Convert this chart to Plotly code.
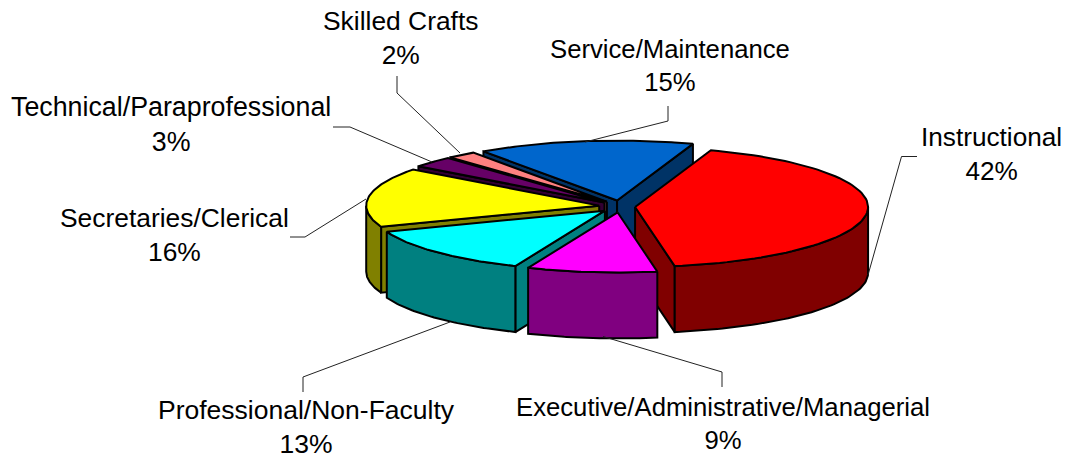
import numpy as np
import plotly.graph_objects as go

# ---- data ----
categories = ["Instructional", "Executive/Administrative/Managerial", "Professional/Non-Faculty",
              "Secretaries/Clerical", "Technical/Paraprofessional", "Skilled Crafts", "Service/Maintenance"]
shares = [42, 9, 13, 16, 3, 2, 15]

# ---- styling, one entry per category ----
top_colors = ["#FF0000", "#FF00FF", "#00FFFF", "#FFFF00", "#660066", "#FF8080", "#0066CC"]
wall_colors = ["#800000", "#800080", "#008080", "#808000", "#330033", "#804040", "#003366"]
label_centres = [(991.5, 153.5), (723, 423), (306, 427), (174, 235), (170.5, 124), (400, 38), (669.5, 65.5)]
label_sizes = [26.2, 25.7, 26.5, 26.4, 26.8, 26.4, 25.7]
explode_scale = [0.72, 1, 1, 1, 1, 1, 1]
leaders = [
    [(917, 156.5), (901.5, 156.5), (868, 275)],
    [(722, 387), (722, 372), (603, 336.5)],
    [(303, 392), (303, 377), (450, 322)],
    [(290, 237), (305, 237), (366, 199)],
    [(333, 127), (350, 127), (432, 162)],
    [(397, 76), (397, 93), (460, 153)],
    [(668, 106), (668, 121), (585, 142)],
]
paint_order = [6, 5, 4, 3, 2, 0, 1]

# ---- pie projection ----
CX, CY = 620, 206.5
A, B = 233, 60
DEPTH = 66
START_DEG = 19
EXPLODE_X, EXPLODE_Y = 21, 6

total = sum(shares)
fig = go.Figure()


def poly(pts, fill):
    xs = [p[0] for p in pts] + [pts[0][0]]
    ys = [p[1] for p in pts] + [pts[0][1]]
    fig.add_trace(go.Scatter(x=xs, y=ys, mode="lines", fill="toself", fillcolor=fill,
                             line=dict(color="black", width=2, shape="linear"),
                             hoverinfo="skip", showlegend=False))


edges = np.cumsum([0] + shares) / total * 360 + START_DEG

for i in paint_order:
    t0, t1 = edges[i], edges[i + 1]
    mid = np.radians((t0 + t1) / 2)
    ax = CX + explode_scale[i] * EXPLODE_X * np.sin(mid)
    ay = CY - EXPLODE_Y * np.cos(mid)

    def rim(deg):
        r = np.radians(deg)
        return (ax + A * np.sin(r), ay - B * np.cos(r))

    inner = rim((t0 + t1) / 2)
    # radial walls that face the viewer
    for e in (t0, t1):
        px, py = rim(e)
        line_y = ay + (py - ay) * (inner[0] - ax) / (px - ax) if px != ax else py
        if inner[1] < line_y:
            poly([(ax, ay), (px, py), (px, py + DEPTH), (ax, ay + DEPTH)], wall_colors[i])
    # outer wall: only the part of the arc on the near side (90..270 degrees)
    lo, hi = max(t0, 90), min(t1, 270)
    if hi > lo:
        ts = np.linspace(lo, hi, 60)
        upper = [rim(t) for t in ts]
        lower = [(x, y + DEPTH) for x, y in upper][::-1]
        poly(upper + lower, wall_colors[i])
    # top face
    ts = np.linspace(t0, t1, 80)
    poly([(ax, ay)] + [rim(t) for t in ts], top_colors[i])

for pts in leaders:
    fig.add_trace(go.Scatter(x=[p[0] for p in pts], y=[p[1] for p in pts], mode="lines",
                             line=dict(color="#222222", width=1), hoverinfo="skip", showlegend=False))

for name, pct, (x, y), size in zip(categories, shares, label_centres, label_sizes):
    fig.add_annotation(x=x, y=y, text=f"{name}<br>{pct}%", showarrow=False, xanchor="center",
                       yanchor="middle", align="center",
                       font=dict(family="Liberation Sans", size=size, color="black"))

fig.update_xaxes(range=[0, 1067], visible=False, fixedrange=True)
fig.update_yaxes(range=[460, 0], visible=False, fixedrange=True)
fig.update_layout(width=1067, height=460, margin=dict(l=0, r=0, t=0, b=0),
                  paper_bgcolor="white", plot_bgcolor="white", showlegend=False)
fig.write_html("out.html", config={"displayModeBar": False},
               post_script="document.body.style.margin='0';document.body.style.overflow='hidden';")
